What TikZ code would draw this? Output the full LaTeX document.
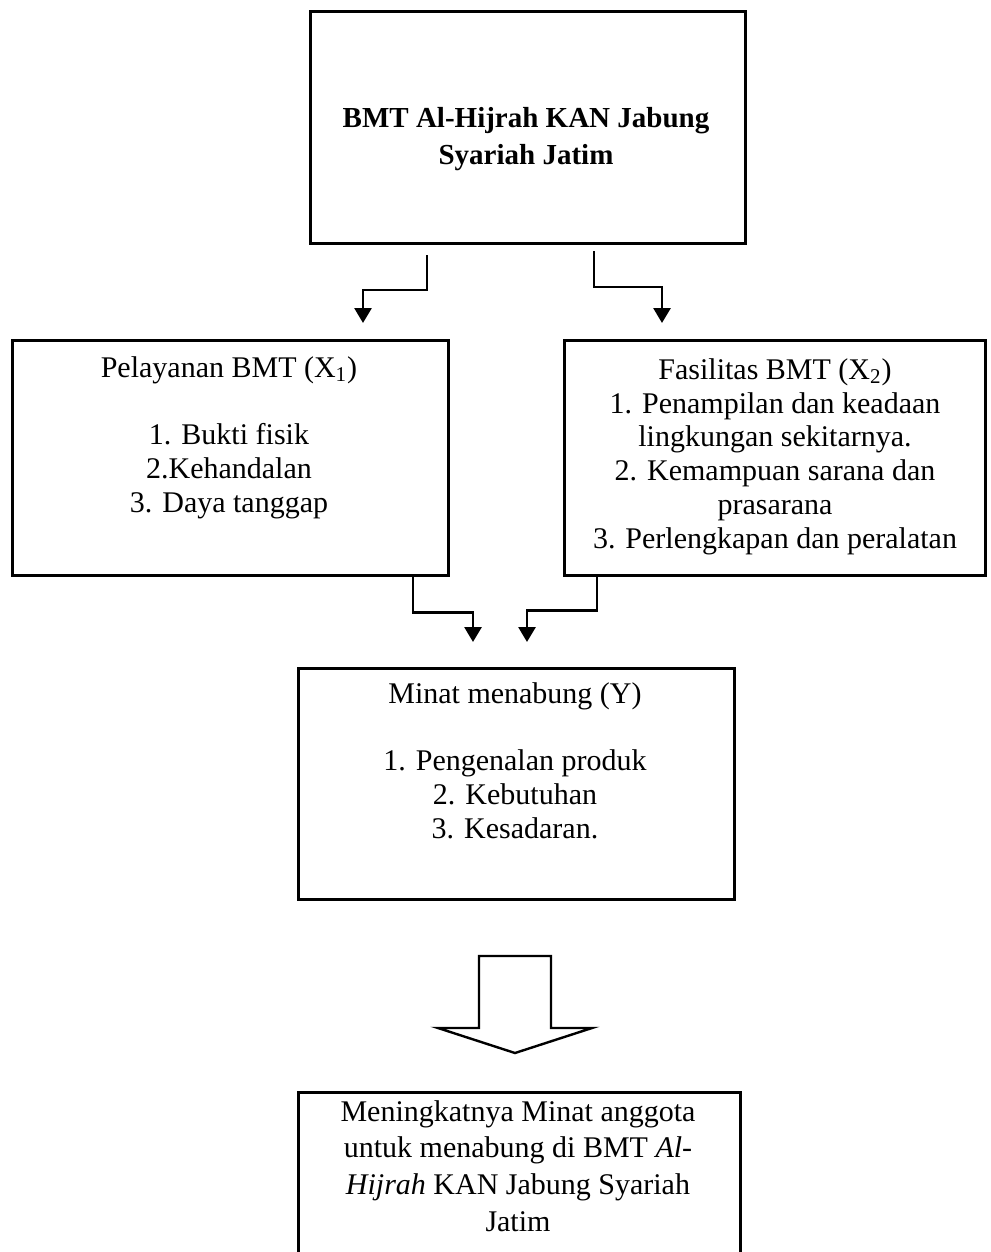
\documentclass[tikz,border=0pt]{standalone}
\usepackage{fontspec}
\setmainfont{Liberation Serif}
\usetikzlibrary{arrows.meta}
\begin{document}
\begin{tikzpicture}[x=0.5pt,y=-0.5pt,
  box/.style={draw, line width=1.35pt, inner sep=0pt, anchor=north west},
  txt/.style={inner sep=0pt, anchor=north, align=center, font=\fontsize{15pt}{16.9pt}\selectfont},
  conn/.style={line width=1.4pt, -{Triangle[width=8.5pt,length=7.5pt]}},
  blockarrow/.style={line width=1.2pt, line join=miter}]
\useasboundingbox (0,0) rectangle (990,1252);
\clip (0,0) rectangle (990,1252);
% boxes
\node[box, minimum width=217.5pt, minimum height=116pt] (topB) at (309,10) {};
\node[box, minimum width=218pt, minimum height=117.5pt] (leftB) at (11,339) {};
\node[box, minimum width=210.5pt, minimum height=117.5pt] (rightB) at (563,339) {};
\node[box, minimum width=218pt, minimum height=115.5pt] (midB) at (297,667) {};
\node[box, minimum width=221pt, minimum height=90pt] (botB) at (297,1091) {};
% texts
\node[txt, font=\fontsize{14.5pt}{18.5pt}\selectfont\bfseries] (topT) at (526,107) {BMT Al-Hijrah KAN Jabung\\Syariah Jatim};
\node[txt] (leftT) at (229,356) {Pelayanan BMT (X\textsubscript{1})\\ ~\\ 1. Bukti fisik\\ 2.Kehandalan\\ 3. Daya tanggap};
\node[txt] (rightT) at (775,358) {Fasilitas BMT (X\textsubscript{2})\\ 1. Penampilan dan keadaan\\ lingkungan sekitarnya.\\ 2. Kemampuan sarana dan\\ prasarana\\ 3. Perlengkapan dan peralatan};
\node[txt] (midT) at (515,682) {Minat menabung (Y)\\ ~\\ 1. Pengenalan produk\\ 2. Kebutuhan\\ 3. Kesadaran.};
\node[txt, font=\fontsize{15pt}{18.35pt}\selectfont] (botT) at (518,1100) {Meningkatnya Minat anggota\\ untuk menabung di BMT \textit{Al-}\\ \textit{Hijrah} KAN Jabung Syariah\\ Jatim};
% connector end points
\coordinate (c1s) at (427,255);
\coordinate (c1e) at (363,323);
\coordinate (c2s) at (594,251);
\coordinate (c2e) at (662,323);
\coordinate (c3s) at (leftB.south -| 413,0);
\coordinate (c3e) at (473,642);
\coordinate (c4s) at (rightB.south -| 597,0);
\coordinate (c4e) at (527,642);
\draw[conn] (c1s) -- ++(0,35) -| (c1e);
\draw[conn] (c2s) -- ++(0,36) -| (c2e);
\draw[conn] (c3s) -- ++(0,36) -| (c3e);
\draw[conn] (c4s) -- ++(0,34) -| (c4e);
% block arrow
\draw[blockarrow] (479,956) -- (551,956) -- (551,1028) -- (592,1028) -- (515,1053) -- (438,1028) -- (479,1028) -- cycle;
\end{tikzpicture}
\end{document}
